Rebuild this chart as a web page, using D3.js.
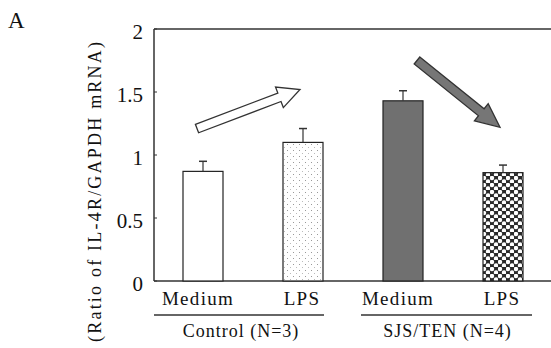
<!DOCTYPE html>
<html>
<head>
<meta charset="utf-8">
<script src="https://cdn.jsdelivr.net/npm/d3@7"></script>
<style>
  body { margin: 0; background: #fff; }
  svg text { font-family: "Liberation Serif", "Times New Roman", Times, serif; fill: #111; }
</style>
</head>
<body>
<div id="chart"></div>
<script>
// data
var categories = ["Medium", "LPS", "Medium", "LPS"];
var groups = ["Control (N=3)", "SJS/TEN (N=4)"];
var values = [0.87, 1.10, 1.43, 0.86];
var errors = [0.08, 0.11, 0.08, 0.06];
var yTicks = [0, 0.5, 1, 1.5, 2];
// arrows: [from bar-position, from value, to bar-position, to value]
var arrowUp = [-0.06, 1.21, 0.97, 1.52];
var arrowDown = [2.14, 1.75, 2.97, 1.22];

var W = 551, H = 348;
var serif = "'Liberation Serif', 'Times New Roman', serif";
var margin = {top: 29, right: 0, bottom: 67, left: 154},
    width = W - margin.left - margin.right,
    height = H - margin.top - margin.bottom;

var svg = d3.select("#chart")
  .append("svg")
    .attr("width", W)
    .attr("height", H)
    .attr("font-family", serif);

var defs = svg.append("defs");

// light dotted fill (Control LPS)
var p1 = defs.append("pattern")
  .attr("id", "dots")
  .attr("patternUnits", "userSpaceOnUse")
  .attr("width", 6).attr("height", 6);
p1.append("rect").attr("width", 6).attr("height", 6).attr("fill", "#fff");
p1.append("rect").attr("x", 1).attr("y", 1).attr("width", 1).attr("height", 1).attr("fill", "#999");
p1.append("rect").attr("x", 4).attr("y", 4).attr("width", 1).attr("height", 1).attr("fill", "#bbb");

// dark net with white holes (SJS/TEN LPS)
var p2 = defs.append("pattern")
  .attr("id", "holes")
  .attr("patternUnits", "userSpaceOnUse")
  .attr("width", 8).attr("height", 7);
p2.append("rect").attr("width", 8).attr("height", 7).attr("fill", "#2a2a2a");
p2.append("circle").attr("cx", 2).attr("cy", 2).attr("r", 2.2).attr("fill", "#fff");
p2.append("circle").attr("cx", 6).attr("cy", 5.5).attr("r", 2.2).attr("fill", "#fff");

var fills = ["#fff", "url(#dots)", "#707070", "url(#holes)"];

var g = svg.append("g")
  .attr("transform", "translate(" + margin.left + "," + margin.top + ")");

// scales
var x = d3.scaleBand()
  .domain(d3.range(categories.length))
  .range([-1, 399])
  .paddingInner(0.6)
  .paddingOuter(0.3);

var y = d3.scaleLinear()
  .domain([0, 2])
  .range([height, 0]);

var pos = function(i) { return x(0) + x.bandwidth() / 2 + i * x.step(); };

// frame: left axis, top line, baseline
g.append("line")
  .attr("x1", 0).attr("x2", 0).attr("y1", 0).attr("y2", height)
  .attr("stroke", "#333").attr("stroke-width", 1.5);
g.append("line")
  .attr("x1", 0).attr("x2", width).attr("y1", 0).attr("y2", 0)
  .attr("stroke", "#333").attr("stroke-width", 1.5);
g.append("line")
  .attr("x1", 0).attr("x2", width).attr("y1", height).attr("y2", height)
  .attr("stroke", "#333").attr("stroke-width", 1.5);

// Y ticks (inside) and labels
g.selectAll(".ytick")
  .data(yTicks)
  .enter()
  .append("line")
    .attr("x1", 0).attr("x2", 3)
    .attr("y1", function(d) { return y(d); })
    .attr("y2", function(d) { return y(d); })
    .attr("stroke", "#333");

g.selectAll(".ylab")
  .data(yTicks)
  .enter()
  .append("text")
    .attr("x", -11)
    .attr("y", function(d) { return y(d) + 10; })
    .attr("text-anchor", "end")
    .style("font-size", "21px")
    .text(function(d) { return d3.format("")(d); });

// bars
g.selectAll(".bar")
  .data(values)
  .enter()
  .append("rect")
    .attr("x", function(d, i) { return x(i); })
    .attr("y", function(d) { return y(d); })
    .attr("width", x.bandwidth())
    .attr("height", function(d) { return height - y(d); })
    .attr("fill", function(d, i) { return fills[i]; })
    .attr("stroke", "#222")
    .attr("stroke-width", 1.2);

// error bars
g.selectAll(".err")
  .data(values)
  .enter()
  .append("line")
    .attr("x1", function(d, i) { return pos(i); })
    .attr("x2", function(d, i) { return pos(i); })
    .attr("y1", function(d) { return y(d); })
    .attr("y2", function(d, i) { return y(d + errors[i]); })
    .attr("stroke", "#333").attr("stroke-width", 1.2);
g.selectAll(".cap")
  .data(values)
  .enter()
  .append("line")
    .attr("x1", function(d, i) { return pos(i) - 4; })
    .attr("x2", function(d, i) { return pos(i) + 4; })
    .attr("y1", function(d, i) { return y(d + errors[i]); })
    .attr("y2", function(d, i) { return y(d + errors[i]); })
    .attr("stroke", "#333").attr("stroke-width", 1.5);

// category labels
g.selectAll(".cat")
  .data(categories)
  .enter()
  .append("text")
    .attr("x", function(d, i) { return pos(i) - (i % 2 === 0 ? 5 : 1); })
    .attr("y", height + 24)
    .attr("text-anchor", "middle")
    .style("font-size", "19px")
    .style("letter-spacing", "1.3px")
    .text(function(d) { return d; });

// group underlines and labels
var groupSpans = [[0, 170], [207, 378]];
g.selectAll(".gline")
  .data(groups)
  .enter()
  .append("line")
    .attr("x1", function(d, i) { return groupSpans[i][0]; })
    .attr("x2", function(d, i) { return groupSpans[i][1]; })
    .attr("y1", height + 34)
    .attr("y2", height + 34)
    .attr("stroke", "#333").attr("stroke-width", 1.5);
g.selectAll(".glab")
  .data(groups)
  .enter()
  .append("text")
    .attr("x", function(d, i) { return (groupSpans[i][0] + groupSpans[i][1]) / 2 + (i === 0 ? 2 : 1); })
    .attr("y", height + 56)
    .attr("text-anchor", "middle")
    .style("font-size", "18px")
    .style("letter-spacing", "1px")
    .text(function(d) { return d; });

// arrows
function arrowPath(a, shaft, headW, headL) {
  var x0 = pos(a[0]), y0 = y(a[1]), x1 = pos(a[2]), y1 = y(a[3]);
  var len = Math.hypot(x1 - x0, y1 - y0);
  var ang = Math.atan2(y1 - y0, x1 - x0) * 180 / Math.PI;
  var s = shaft / 2, h = headW / 2, b = len - headL;
  var d = "M0," + (-s) + "L" + b + "," + (-s) + "L" + b + "," + (-h) +
          "L" + len + ",0L" + b + "," + h + "L" + b + "," + s + "L0," + s + "Z";
  return {d: d, t: "translate(" + x0 + "," + y0 + ") rotate(" + ang + ")"};
}
var up = arrowPath(arrowUp, 9, 22, 22);
g.append("path")
  .attr("d", up.d).attr("transform", up.t)
  .attr("fill", "#fff").attr("stroke", "#333").attr("stroke-width", 1.3);
var down = arrowPath(arrowDown, 9, 22, 24);
g.append("path")
  .attr("d", down.d).attr("transform", down.t)
  .attr("fill", "#767676").attr("stroke", "#333").attr("stroke-width", 1.3);

// Y axis title
svg.append("text")
  .attr("transform", "translate(101,192) rotate(-90)")
  .attr("text-anchor", "middle")
  .attr("textLength", 300)
  .attr("lengthAdjust", "spacing")
  .style("font-size", "18px")
  .text("(Ratio of IL-4R/GAPDH mRNA)");

// panel letter
svg.append("text")
  .attr("x", 8).attr("y", 28)
  .style("font-size", "23px")
  .text("A");
</script>
</body>
</html>
